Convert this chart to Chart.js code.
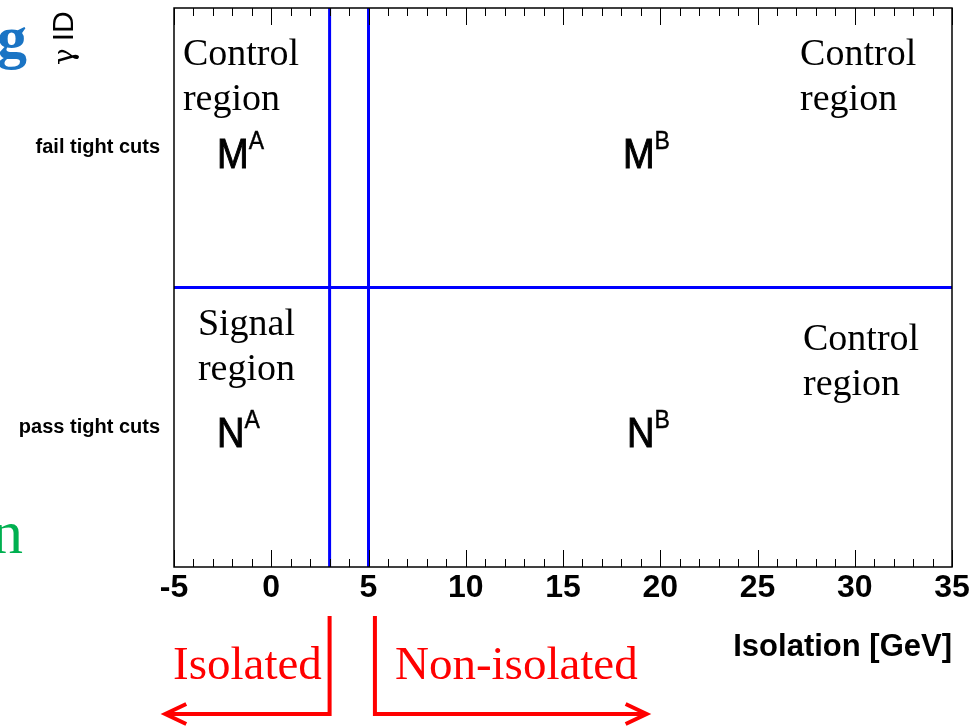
<!DOCTYPE html>
<html>
<head>
<meta charset="utf-8">
<script src="https://cdn.jsdelivr.net/npm/chart.js@4.4.1/dist/chart.umd.min.js"></script>
<style>
  html, body { margin: 0; padding: 0; background: #fff; }
  #wrap { width: 976px; height: 727px; position: relative; }
</style>
</head>
<body>
<div id="wrap"><canvas id="abcd"></canvas></div>
<script>
// isolation axis and the two isolation cuts
const isoRange = [-5, 35];
const isoCuts = [3, 5];
// photon ID axis: bottom row passes, top row fails
const idRange = [0, 2];
const idCut = 1;
const idLabels = ['pass tight cuts', 'fail tight cuts'];
// regions: top-left, top-right, bottom-left, bottom-right
const regionTitles = [['Control', 'region'], ['Control', 'region'], ['Signal', 'region'], ['Control', 'region']];
const regionYield = ['M', 'M', 'N', 'N'];
const regionSup = ['A', 'B', 'A', 'B'];
const sideLabels = ['Isolated', 'Non-isolated'];

// where the annotations sit, in axis units
const titleAt = [[-4.54, 1.796], [27.19, 1.796], [-3.77, 0.83], [27.34, 0.776]];
const yieldAt = [[-2.79, 1.428], [18.08, 1.428], [-2.79, 0.429], [18.29, 0.429]];
const arrowAt = [[3, -5.45], [5.33, 19.3]];   // [bracket, tip]
const sideAt = [-5.05, 6.36];

const BLUE = '#0000ff';
const RED = '#ff0000';

const cutLines = isoCuts.map(c => ({
  data: [{ x: c, y: idRange[0] }, { x: c, y: idRange[1] }],
  borderColor: BLUE, borderWidth: 3, pointRadius: 0, showLine: true, fill: false
}));
cutLines.push({
  data: [{ x: isoRange[0], y: idCut }, { x: isoRange[1], y: idCut }],
  borderColor: BLUE, borderWidth: 3, pointRadius: 0, showLine: true, fill: false
});

// frame and the root-style inside ticks
const framePlugin = {
  id: 'frame',
  afterDatasetsDraw(chart) {
    const { ctx, chartArea: a, scales: { x } } = chart;
    ctx.save();
    ctx.strokeStyle = '#000';
    ctx.lineWidth = 1;
    for (let v = isoRange[0]; v <= isoRange[1]; v++) {
      const px = Math.round(x.getPixelForValue(v)) + 0.5;
      const len = v % 5 === 0 ? 17 : 8;
      ctx.beginPath();
      ctx.moveTo(px, a.bottom); ctx.lineTo(px, a.bottom - len);
      ctx.moveTo(px, a.top); ctx.lineTo(px, a.top + len);
      ctx.stroke();
    }
    ctx.lineWidth = 1.5;
    ctx.strokeRect(a.left, a.top, a.right - a.left, a.bottom - a.top);
    ctx.restore();
  }
};

// text squeezed a little vertically, like the root output
function stretched(ctx, text, px, py, sy, heavy) {
  ctx.save();
  ctx.translate(px, py);
  ctx.scale(1, sy);
  ctx.fillText(text, 0, 0);
  if (heavy) { ctx.lineWidth = heavy; ctx.strokeText(text, 0, 0); }
  ctx.restore();
}

const notesPlugin = {
  id: 'notes',
  afterDraw(chart) {
    const { ctx, chartArea: a, scales: { x, y } } = chart;
    ctx.save();
    ctx.textAlign = 'left';
    ctx.textBaseline = 'alphabetic';
    ctx.fillStyle = '#000';
    ctx.strokeStyle = '#000';

    // region names
    ctx.font = '38px "Liberation Serif", "Times New Roman", serif';
    regionTitles.forEach((lines, i) => {
      const px = x.getPixelForValue(titleAt[i][0]);
      const py = y.getPixelForValue(titleAt[i][1]);
      lines.forEach((t, k) => ctx.fillText(t, px, py + k * 45));
    });

    // yields M^A, M^B, N^A, N^B
    regionYield.forEach((t, i) => {
      const px = x.getPixelForValue(yieldAt[i][0]);
      const py = y.getPixelForValue(yieldAt[i][1]);
      ctx.font = '38px "Liberation Sans", Arial, sans-serif';
      stretched(ctx, t, px, py, 1.12, 0.9);
      const w = ctx.measureText(t).width;
      ctx.font = '23px "Liberation Sans", Arial, sans-serif';
      stretched(ctx, regionSup[i], px + w, py - 19, 1.1, 0.4);
    });

    // isolated / non-isolated brackets
    const yb = a.bottom + 147;
    ctx.strokeStyle = RED;
    ctx.lineWidth = 4;
    ctx.lineJoin = 'miter';
    ctx.lineCap = 'butt';
    arrowAt.forEach(([b, tip]) => {
      const bx = x.getPixelForValue(b);
      const tx = x.getPixelForValue(tip);
      const dir = tx < bx ? 1 : -1;
      ctx.beginPath();
      ctx.moveTo(bx, a.bottom + 49);
      ctx.lineTo(bx, yb);
      ctx.lineTo(tx, yb);
      ctx.stroke();
      ctx.beginPath();
      ctx.moveTo(tx + dir * 21, yb - 10);
      ctx.lineTo(tx, yb);
      ctx.lineTo(tx + dir * 21, yb + 10);
      ctx.stroke();
    });
    ctx.fillStyle = RED;
    ctx.font = '47px "Liberation Serif", "Times New Roman", serif';
    sideLabels.forEach((t, i) => ctx.fillText(t, x.getPixelForValue(sideAt[i]), a.bottom + 112));

    // axis title for photon ID, rotated
    ctx.fillStyle = '#000';
    ctx.save();
    ctx.translate(73, 65);
    ctx.rotate(-Math.PI / 2);
    ctx.font = '28px "DejaVu Serif", "Liberation Serif", serif';
    ctx.fillText('γ', 0, 0);
    const gw = ctx.measureText('γ').width + 7;
    ctx.font = '30px "Liberation Sans", Arial, sans-serif';
    ctx.fillText('ID', gw, 0);
    ctx.restore();

    // pieces of the slide text around the figure
    ctx.textAlign = 'right';
    ctx.fillStyle = '#1a74c4';
    ctx.font = 'bold 60px "Liberation Serif", "Times New Roman", serif';
    ctx.fillText('g', 27, 57);
    ctx.fillStyle = '#00b050';
    ctx.font = '62px "Liberation Serif", "Times New Roman", serif';
    ctx.fillText('n', 23, 553);
    ctx.restore();
  }
};

new Chart(document.getElementById('abcd'), {
  type: 'scatter',
  data: { datasets: cutLines },
  options: {
    responsive: true,
    maintainAspectRatio: false,
    animation: false,
    devicePixelRatio: 1,
    layout: { padding: { left: 0, top: 8, right: 24, bottom: 0 } },
    plugins: { legend: { display: false }, tooltip: { enabled: false } },
    scales: {
      x: {
        type: 'linear', min: isoRange[0], max: isoRange[1],
        grid: { display: false, drawTicks: false, tickLength: 0 },
        border: { display: false },
        ticks: {
          stepSize: 5, padding: 2, color: '#000', maxRotation: 0,
          font: { family: '"Liberation Sans", Arial, sans-serif', size: 32, weight: 'bold' }
        },
        title: {
          display: true, text: 'Isolation [GeV]', align: 'end', color: '#000',
          font: { family: '"Liberation Sans", Arial, sans-serif', size: 31, weight: 'bold' },
          padding: { top: 0, bottom: 61 }
        },
        afterFit(s) { s.height = 160; s.paddingLeft = 0; s.paddingRight = 0; }
      },
      y: {
        type: 'linear', min: idRange[0], max: idRange[1],
        grid: { display: false, drawTicks: false, tickLength: 0 },
        border: { display: false },
        afterBuildTicks(s) { s.ticks = idLabels.map((_, i) => ({ value: i + 0.5 })); },
        ticks: {
          padding: 14, color: '#000',
          font: { family: '"Liberation Sans", Arial, sans-serif', size: 20, weight: 'bold' },
          callback: v => idLabels[Math.floor(v)]
        },
        afterFit(s) { s.width = 174; s.paddingTop = 0; s.paddingBottom = 0; }
      }
    }
  },
  plugins: [framePlugin, notesPlugin]
});
</script>
</body>
</html>
